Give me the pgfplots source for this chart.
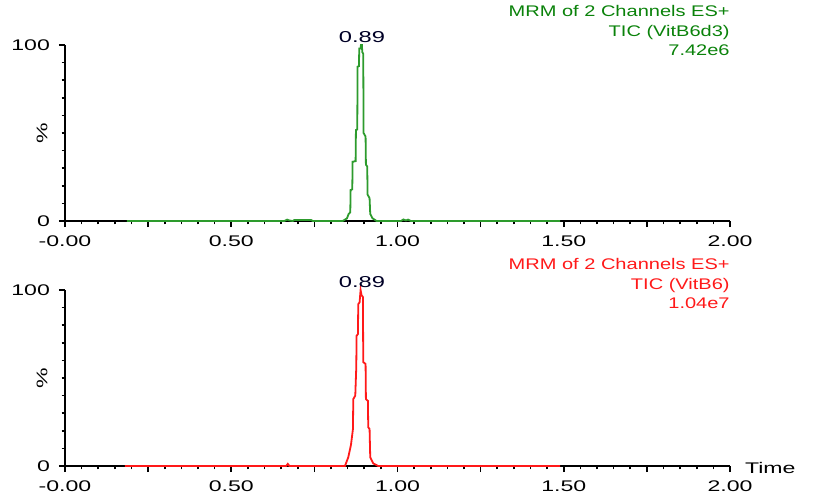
\documentclass[border=0pt]{standalone}
\usepackage{fontspec}
\setmainfont{Liberation Sans}[FakeStretch=1.5]
\newfontfamily\titlefont{Liberation Sans}[FakeStretch=1.3]
\usepackage{pgfplots}
\pgfplotsset{compat=1.18}
\definecolor{msgreen}{RGB}{45,155,45}
\definecolor{msgreentxt}{RGB}{10,130,10}
\definecolor{msred}{RGB}{255,25,25}

\pgfplotsset{
  chrom/.style={
    scale only axis, width=332.5pt, height=88pt,
    xmin=0, xmax=2, ymin=0, ymax=100,
    axis lines*=left, axis line style={line width=1pt},
    every tick/.style={black, line width=0.8pt},
    tick align=outside, xtick pos=bottom, ytick pos=left,
    xtick={0,0.5,1,1.5,2},
    xticklabels={-0.00,0.50,1.00,1.50,2.00},
    extra x ticks={0.25,0.75,1.25,1.75}, extra x tick labels={},
    minor x tick num=9,
    ytick={0,100}, yticklabels={0,100},
    minor y tick num=9,
    major tick length=3pt, minor tick length=1.7pt,
    tick label style={font=\fontsize{7.7}{8}\selectfont},
    xticklabel style={yshift=-1pt},
    yticklabel style={xshift=-1pt},
    clip=false,
  }
}

\begin{document}
\begin{tikzpicture}
\useasboundingbox (-32.5pt,-137pt) rectangle (374pt,110.5pt);

\begin{axis}[chrom, at={(0,0)}]
\addplot[msgreen, line width=0.9pt] coordinates {
(0.186,0)(0.66,0)(0.668,0.8)(0.675,0.3)(0.685,0)(0.69,0.6)(0.74,0.6)(0.745,0)
(0.835,0)(0.848,1.5)(0.853,4)(0.858,5)(0.859,17.6)(0.864,18)(0.865,33.7)(0.874,34)
(0.875,51.7)(0.879,52)(0.880,87.7)(0.884,88)(0.885,98)(0.889,98)(0.890,100)(0.893,100)
(0.894,96)(0.897,95)(0.898,50)(0.904,48)(0.905,32)(0.909,31)(0.910,15)(0.916,13)
(0.918,4)(0.925,1.5)(0.937,0)(1.010,0)(1.018,0.9)(1.025,0.3)(1.032,0.8)(1.040,0)(1.489,0)
};
\node[font=\fontsize{7.9}{8}\selectfont, anchor=south, text=black!85!blue]
  at (axis cs:0.893,100) [yshift=-2.5pt] {0.89};
\node[font=\titlefont\fontsize{7.7}{9.8}\selectfont, text=msgreentxt, align=right,
  anchor=north east, inner sep=0pt] at (332.5pt,108pt)
  {MRM of 2 Channels ES+\\TIC (VitB6d3)\\7.42e6};
\node[font=\fontsize{7.7}{8}\selectfont, xshift=-11.5pt, rotate=90] at (axis cs:0,50) {\%};
\end{axis}

\begin{axis}[chrom, at={(0,-122.5pt)}]
\addplot[msred, line width=0.9pt] coordinates {
(0.180,0)(0.665,0)(0.670,1.2)(0.675,0)(0.842,0)(0.852,5)(0.860,12)(0.866,21)
(0.867,38)(0.873,40)(0.876,56)(0.877,74)(0.881,75)(0.882,92)(0.886,93)(0.889,100)
(0.892,97)(0.896,96)(0.897,59)(0.904,58)(0.905,38)(0.911,37)(0.912,22)(0.916,21)
(0.918,5)(0.927,1.5)(0.942,0)(1.489,0)
};
\node[font=\fontsize{7.9}{8}\selectfont, anchor=south, text=black!85!blue]
  at (axis cs:0.893,100) [yshift=-2.5pt] {0.89};
\node[font=\titlefont\fontsize{7.7}{9.8}\selectfont, text=msred, align=right,
  anchor=north east, inner sep=0pt] at (332.5pt,104pt)
  {MRM of 2 Channels ES+\\TIC (VitB6)\\1.04e7};
\node[font=\fontsize{7.7}{8}\selectfont, xshift=-11.5pt, rotate=90] at (axis cs:0,50) {\%};
\node[font=\fontsize{7.7}{8}\selectfont, anchor=west] at (axis cs:2,0) [xshift=4pt,yshift=-1pt] {Time};
\end{axis}
\end{tikzpicture}
\end{document}
